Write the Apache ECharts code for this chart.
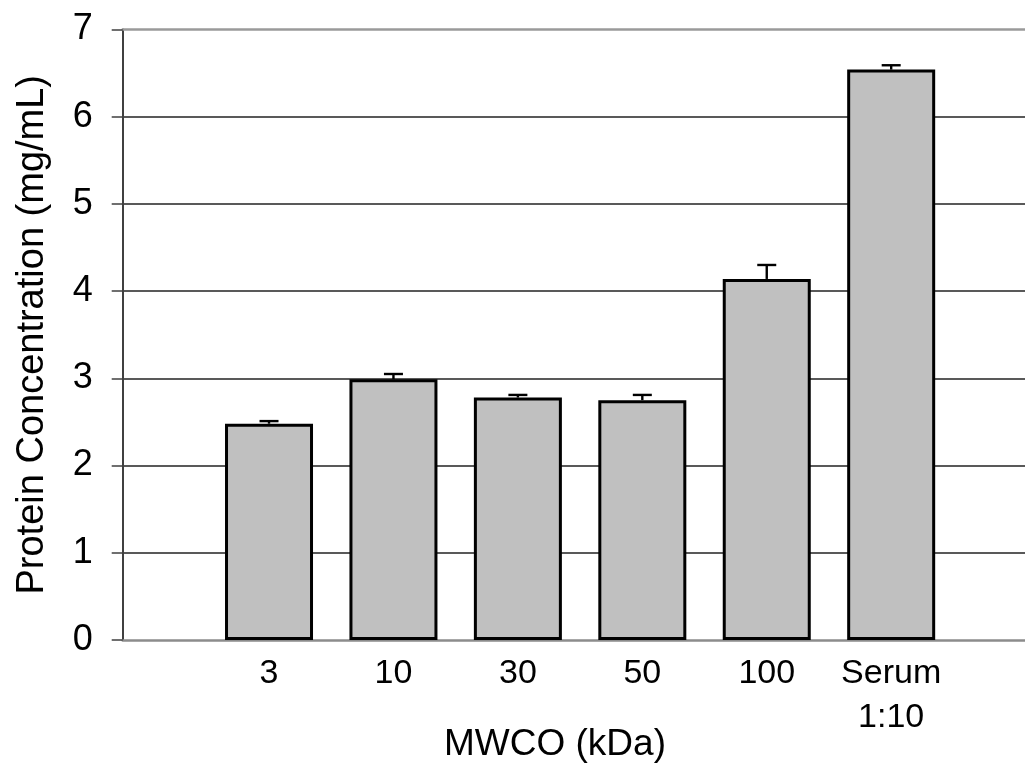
<!DOCTYPE html>
<html>
<head>
<meta charset="utf-8">
<script src="https://cdn.jsdelivr.net/npm/echarts@6/dist/echarts.min.js"></script>
<style>
html,body{margin:0;padding:0;background:#fff;}
#chart{width:1025px;height:770px;}
</style>
</head>
<body>
<div id="chart"></div>
<script>
const categories = ['3', '10', '30', '50', '100', 'Serum\n1:10'];
const values = [2.48, 2.99, 2.78, 2.75, 4.14, 6.54];
const errors = [0.03, 0.06, 0.03, 0.06, 0.16, 0.05];
const yMin = 0, yMax = 7, yStep = 1;
const yTitle = 'Protein Concentration (mg/mL)';
const xTitle = 'MWCO (kDa)';

const FONT = '"Liberation Sans", Arial, sans-serif';
const chart = echarts.init(document.getElementById('chart'), null, {renderer: 'canvas'});

const errData = categories.map((c, i) => [i, values[i] + errors[i], values[i]]);

const option = {
  backgroundColor: '#ffffff',
  animation: false,
  textStyle: {fontFamily: FONT, color: '#000'},
  grid: [
    {left: 122.7, right: 0, top: 29.5, bottom: 130},
    {left: 206.8, right: 71.6, top: 29.5, bottom: 130}
  ],
  xAxis: [
    {type: 'category', gridIndex: 0, data: [''], position: 'bottom',
     axisLine: {show: true, lineStyle: {color: '#8c8c8c', width: 2.5}},
     axisTick: {show: false}, axisLabel: {show: false}, splitLine: {show: false}},
    {type: 'category', gridIndex: 0, data: [''], position: 'top',
     axisLine: {show: true, lineStyle: {color: '#9a9a9a', width: 2.5}},
     axisTick: {show: false}, axisLabel: {show: false}, splitLine: {show: false}},
    {type: 'category', gridIndex: 1, data: categories, position: 'bottom',
     axisLine: {show: false}, axisTick: {show: false}, splitLine: {show: false},
     axisLabel: {fontSize: 34, lineHeight: 44, color: '#000', fontFamily: FONT, margin: 12, interval: 0}}
  ],
  yAxis: [
    {type: 'value', gridIndex: 0, min: yMin, max: yMax, interval: yStep,
     name: yTitle, nameLocation: 'middle', nameGap: 71,
     nameTextStyle: {fontSize: 38, color: '#000', fontFamily: FONT},
     axisLine: {show: true, lineStyle: {color: '#404040', width: 2}},
     axisTick: {show: true, inside: false, length: 11, lineStyle: {color: '#404040', width: 1.5}},
     axisLabel: {fontSize: 36, color: '#000', fontFamily: FONT, margin: 30},
     splitLine: {show: true, showMinLine: false, showMaxLine: false, lineStyle: {color: '#222', width: 1.5}}},
    {type: 'value', gridIndex: 1, min: yMin, max: yMax, interval: yStep,
     axisLine: {show: false}, axisTick: {show: false}, axisLabel: {show: false}, splitLine: {show: false}}
  ],
  series: [
    {type: 'bar', xAxisIndex: 2, yAxisIndex: 1, data: values, barWidth: 88,
     itemStyle: {color: '#c0c0c0', borderColor: '#000', borderWidth: 3}, z: 3},
    {type: 'custom', xAxisIndex: 2, yAxisIndex: 1, data: errData, z: 4,
     renderItem: function (params, api) {
       const top = api.coord([api.value(0), api.value(1)]);
       const base = api.coord([api.value(0), api.value(2)]);
       const half = 9.5;
       const st = {stroke: '#000', lineWidth: 2.4};
       return {type: 'group', children: [
         {type: 'line', shape: {x1: top[0], y1: base[1], x2: top[0], y2: top[1]}, style: st},
         {type: 'line', shape: {x1: top[0] - half, y1: top[1], x2: top[0] + half, y2: top[1]}, style: st}
       ]};
     }}
  ],
  graphic: [
    {type: 'text', x: 555, y: 745, style: {text: xTitle, font: '37px ' + FONT, fill: '#000', textAlign: 'center', textVerticalAlign: 'middle'}}
  ]
};
chart.setOption(option);
</script>
</body>
</html>
